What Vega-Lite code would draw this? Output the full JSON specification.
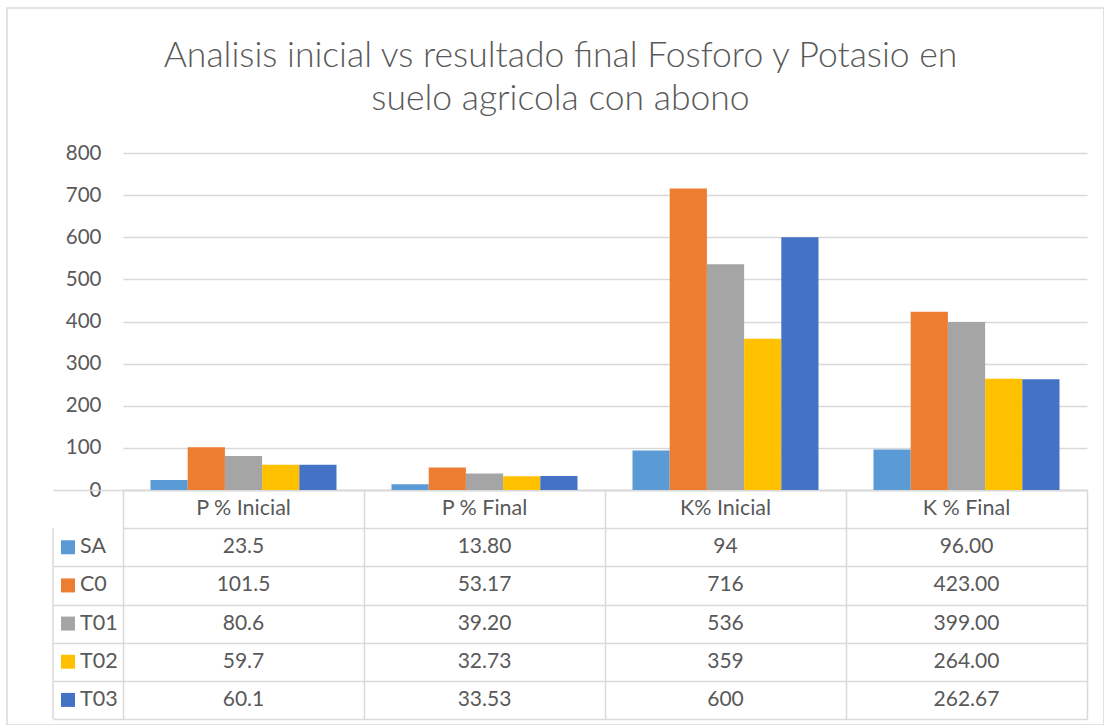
{
  "$schema": "https://vega.github.io/schema/vega-lite/v6.json",
  "width": 1097,
  "height": 717,
  "autosize": {"type": "none"},
  "padding": {"left": 7, "top": 8, "right": 0, "bottom": 0},
  "background": "white",
  "config": {"view": {"stroke": "#D9D9D9", "strokeWidth": 1.5}, "font": "Lato"},
  "title": {
    "text": ["Analisis inicial vs resultado final Fosforo y Potasio en", "suelo agricola con abono"],
    "anchor": "middle",
    "frame": "group",
    "baseline": "alphabetic",
    "offset": -137,
    "dx": 5,
    "fontSize": 35.5,
    "font": "Lato",
    "fontWeight": 300,
    "color": "#595959",
    "lineHeight": 43
  },
  "datasets": {
    "values": [
      {"cat": "P % Inicial", "series": "SA", "value": 23.5, "label": "23.5"},
      {"cat": "P % Inicial", "series": "C0", "value": 101.5, "label": "101.5"},
      {"cat": "P % Inicial", "series": "T01", "value": 80.6, "label": "80.6"},
      {"cat": "P % Inicial", "series": "T02", "value": 59.7, "label": "59.7"},
      {"cat": "P % Inicial", "series": "T03", "value": 60.1, "label": "60.1"},
      {"cat": "P % Final", "series": "SA", "value": 13.8, "label": "13.80"},
      {"cat": "P % Final", "series": "C0", "value": 53.17, "label": "53.17"},
      {"cat": "P % Final", "series": "T01", "value": 39.2, "label": "39.20"},
      {"cat": "P % Final", "series": "T02", "value": 32.73, "label": "32.73"},
      {"cat": "P % Final", "series": "T03", "value": 33.53, "label": "33.53"},
      {"cat": "K% Inicial", "series": "SA", "value": 94, "label": "94"},
      {"cat": "K% Inicial", "series": "C0", "value": 716, "label": "716"},
      {"cat": "K% Inicial", "series": "T01", "value": 536, "label": "536"},
      {"cat": "K% Inicial", "series": "T02", "value": 359, "label": "359"},
      {"cat": "K% Inicial", "series": "T03", "value": 600, "label": "600"},
      {"cat": "K % Final", "series": "SA", "value": 96, "label": "96.00"},
      {"cat": "K % Final", "series": "C0", "value": 423, "label": "423.00"},
      {"cat": "K % Final", "series": "T01", "value": 399, "label": "399.00"},
      {"cat": "K % Final", "series": "T02", "value": 264, "label": "264.00"},
      {"cat": "K % Final", "series": "T03", "value": 262.67, "label": "262.67"}
    ],
    "cats": [
      {"cat": "P % Inicial"},
      {"cat": "P % Final"},
      {"cat": "K% Inicial"},
      {"cat": "K % Final"}
    ],
    "series": [
      {"series": "SA"},
      {"series": "C0"},
      {"series": "T01"},
      {"series": "T02"},
      {"series": "T03"}
    ]
  },
  "layer": [
    {
      "data": {"name": "values"},
      "mark": {"type": "bar"},
      "encoding": {
        "x": {
          "field": "cat",
          "type": "nominal",
          "sort": ["P % Inicial", "P % Final", "K% Inicial", "K % Final"],
          "scale": {"domain": ["P % Inicial", "P % Final", "K% Inicial", "K % Final"], "range": [116, 1080], "paddingInner": 0, "paddingOuter": 0},
          "axis": {
            "title": null,
            "labels": false,
            "domain": true,
            "domainColor": "#D9D9D9",
            "domainWidth": 1.5,
            "ticks": true,
            "tickSize": 229,
            "tickColor": "#D9D9D9",
            "tickWidth": 1.5,
            "tickBand": "extent",
            "grid": false,
            "offset": -235
          }
        },
        "xOffset": {
          "field": "series",
          "type": "nominal",
          "sort": ["SA", "C0", "T01", "T02", "T03"],
          "scale": {"domain": ["SA", "C0", "T01", "T02", "T03"], "paddingInner": 0, "paddingOuter": 0.739}
        },
        "y": {
          "field": "value",
          "type": "quantitative",
          "scale": {"domain": [0, 800], "range": [482, 145], "nice": false},
          "axis": {
            "title": null,
            "values": [0, 100, 200, 300, 400, 500, 600, 700, 800],
            "grid": true,
            "gridColor": "#D9D9D9",
            "gridWidth": 1.5,
            "domain": false,
            "ticks": false,
            "labelPadding": 22,
            "labelFontSize": 20.5,
            "labelFont": "Lato",
            "labelColor": "#595959",
            "offset": -116
          }
        },
        "color": {
          "field": "series",
          "type": "nominal",
          "scale": {"domain": ["SA", "C0", "T01", "T02", "T03"], "range": ["#5B9BD5", "#ED7D31", "#A5A5A5", "#FFC000", "#4472C4"]},
          "legend": null
        }
      }
    },
    {
      "layer": [
        {
          "data": {"name": "values"},
          "mark": {"type": "text", "fontSize": 21, "font": "Lato", "color": "#595959", "baseline": "middle", "align": "center"},
          "encoding": {
            "x": {"field": "cat", "type": "nominal"},
            "y": {
              "field": "series",
              "type": "nominal",
              "scale": {"domain": ["hdr", "SA", "C0", "T01", "T02", "T03"], "range": [482, 711], "paddingInner": 0, "paddingOuter": 0},
              "axis": {
                "orient": "left",
                "title": null,
                "labels": false,
                "domain": false,
                "ticks": true,
                "tickSize": 70,
                "tickColor": "#D9D9D9",
                "tickWidth": 1.5,
                "tickBand": "extent",
                "tickOpacity": {"condition": {"test": "datum.value === 'hdr'", "value": 0}, "value": 1},
                "grid": true,
                "gridColor": "#D9D9D9",
                "gridWidth": 1.5,
                "offset": -116
              }
            },
            "text": {"field": "label", "type": "nominal"}
          }
        },
        {
          "data": {"name": "cats"},
          "mark": {"type": "text", "fontSize": 21.5, "font": "Lato", "color": "#595959", "baseline": "middle", "align": "center"},
          "encoding": {
            "x": {"field": "cat", "type": "nominal"},
            "y": {"datum": "hdr", "type": "nominal"},
            "text": {"field": "cat", "type": "nominal"}
          }
        },
        {
          "data": {"name": "series"},
          "mark": {"type": "square", "size": 196, "filled": true, "opacity": 1, "xOffset": -175.5},
          "encoding": {
            "x": {"datum": "P % Inicial", "type": "nominal"},
            "y": {"field": "series", "type": "nominal"},
            "color": {"field": "series", "type": "nominal", "legend": null}
          }
        },
        {
          "data": {"name": "series"},
          "mark": {"type": "text", "fontSize": 21.5, "font": "Lato", "color": "#595959", "baseline": "middle", "align": "left", "xOffset": -163.5},
          "encoding": {
            "x": {"datum": "P % Inicial", "type": "nominal"},
            "y": {"field": "series", "type": "nominal"},
            "text": {"field": "series", "type": "nominal"}
          }
        },
        {
          "data": {"name": "series"},
          "mark": {"type": "tick", "orient": "vertical", "xOffset": -190.5, "size": 38.17, "thickness": 1.5, "color": "#D9D9D9", "opacity": 1},
          "encoding": {
            "x": {"datum": "P % Inicial", "type": "nominal"},
            "y": {"field": "series", "type": "nominal"}
          }
        }
      ]
    }
  ],
  "resolve": {"scale": {"y": "independent"}}
}
